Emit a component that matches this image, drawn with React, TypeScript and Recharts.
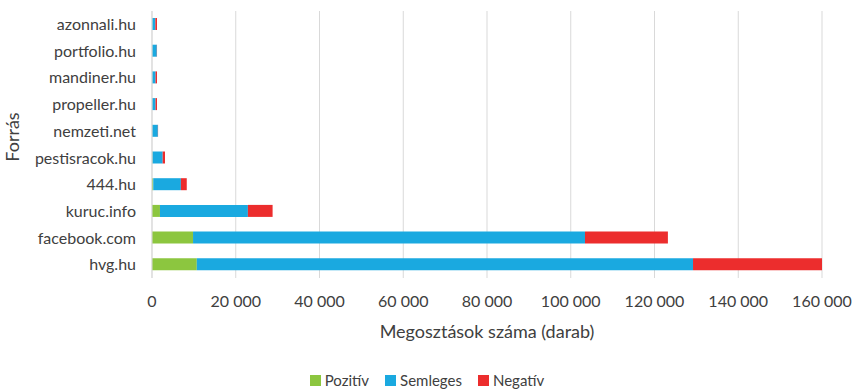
import React from "react";
import {
  BarChart,
  Bar,
  XAxis,
  YAxis,
  CartesianGrid,
  Legend,
} from "recharts";

// sources, top to bottom
const sources = [
  "azonnali.hu",
  "portfolio.hu",
  "mandiner.hu",
  "propeller.hu",
  "nemzeti.net",
  "pestisracok.hu",
  "444.hu",
  "kuruc.info",
  "facebook.com",
  "hvg.hu",
];

const pozitiv = [50, 50, 50, 50, 50, 100, 300, 1900, 9800, 10700];
const semleges = [750, 1100, 800, 800, 1350, 2450, 6600, 21000, 93600, 118500];
const negativ = [400, 50, 350, 350, 50, 550, 1400, 5900, 19800, 30800];

const xTicks = [0, 20000, 40000, 60000, 80000, 100000, 120000, 140000, 160000];

const seriesNames = ["Pozitív", "Semleges", "Negatív"];
const seriesColors = ["#8cc63f", "#1aa9e0", "#ec2d2d"];

const data = sources.map((name, i) => ({
  name,
  pozitiv: pozitiv[i],
  semleges: semleges[i],
  negativ: negativ[i],
}));

const formatThousands = (v: number) =>
  v.toString().replace(/\B(?=(\d{3})+(?!\d))/g, " ");

const font = "Lato, 'Open Sans', sans-serif";
const textColor = "#404040";

const renderLegend = () => (
  <div
    style={{
      display: "flex",
      justifyContent: "center",
      paddingLeft: 32,
      marginTop: 18,
      gap: 16,
      fontFamily: font,
      fontSize: 15,
      color: textColor,
    }}
  >
    {seriesNames.map((n, i) => (
      <span key={n} style={{ display: "flex", alignItems: "center" }}>
        <span
          style={{
            display: "inline-block",
            width: 11,
            height: 11,
            background: seriesColors[i],
            marginRight: 4,
          }}
        />
        {n}
      </span>
    ))}
  </div>
);

const ForrasLabel = () => (
  <text
    x={19}
    y={137}
    transform="rotate(-90 19 137)"
    textAnchor="middle"
    fill={textColor}
    fontSize={18}
    fontFamily={font}
  >
    Forrás
  </text>
);

export default function App() {
  return (
    <div style={{ position: "absolute", left: 0, top: 0, fontFamily: font }}>
      <BarChart
        width={854}
        height={389}
        data={data}
        layout="vertical"
        margin={{ top: 11, right: 32, bottom: 0, left: 0 }}
        barSize={12}
      >
        <CartesianGrid horizontal={false} stroke="#d9d9d9" />
        <XAxis
          type="number"
          domain={[0, 160000]}
          ticks={xTicks}
          tickFormatter={formatThousands}
          axisLine={false}
          tickLine={false}
          tick={{ fill: textColor, fontSize: 16, fontFamily: font }}
          tickMargin={12}
          height={75}
          label={{
            value: "Megosztások száma (darab)",
            position: "insideBottom",
            offset: 15,
            fill: textColor,
            fontSize: 18,
            fontFamily: font,
          }}
        />
        <YAxis
          type="category"
          dataKey="name"
          width={152}
          axisLine={{ stroke: "#d9d9d9" }}
          tickLine={false}
          tickMargin={10}
          tick={{ fill: textColor, fontSize: 16, fontFamily: font }}
          label={<ForrasLabel />}
        />
        <Legend verticalAlign="bottom" height={36} content={renderLegend} />
        <Bar dataKey="pozitiv" name="Pozitív" stackId="a" fill={seriesColors[0]} isAnimationActive={false} />
        <Bar dataKey="semleges" name="Semleges" stackId="a" fill={seriesColors[1]} isAnimationActive={false} />
        <Bar dataKey="negativ" name="Negatív" stackId="a" fill={seriesColors[2]} isAnimationActive={false} />
      </BarChart>
    </div>
  );
}
